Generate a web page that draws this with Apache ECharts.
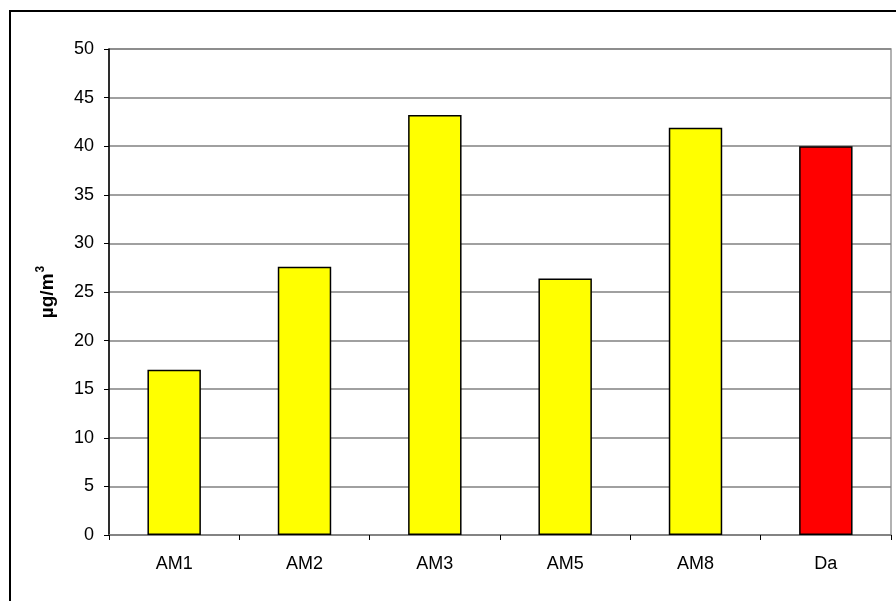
<!DOCTYPE html>
<html>
<head>
<meta charset="utf-8">
<script src="https://cdn.jsdelivr.net/npm/echarts@6/dist/echarts.min.js"></script>
<style>
  html, body { margin: 0; padding: 0; background: #fff; }
  #chart { width: 896px; height: 601px; }
  #frame { position: absolute; left: 9px; top: 10px; width: 900px; height: 600px; border: 2px solid #000; box-sizing: border-box; pointer-events: none; }
</style>
</head>
<body>
<div id="chart"></div>
<div id="frame"></div>
<script>
// Concentrations per station (µg/m³)
const categories = ['AM1', 'AM2', 'AM3', 'AM5', 'AM8', 'Da'];
const values = [17.0, 27.6, 43.2, 26.4, 41.9, 40.0];
const barColors = ['#FFFF00', '#FFFF00', '#FFFF00', '#FFFF00', '#FFFF00', '#FF0000'];
const yTicks = { min: 0, max: 50, interval: 5 };

const chart = echarts.init(document.getElementById('chart'), null, { renderer: 'canvas' });

chart.setOption({
  animation: false,
  backgroundColor: '#fff',
  textStyle: { fontFamily: 'Liberation Sans, Arial, sans-serif' },
  grid: { left: 109, right: 5, top: 49, bottom: 66, containLabel: false,
          show: true, borderColor: '#999', borderWidth: 1.5, backgroundColor: 'transparent' },
  xAxis: {
    type: 'category',
    data: categories,
    axisLine: { show: true, lineStyle: { color: '#808080', width: 1.5 } },
    axisTick: { show: true, alignWithLabel: false, length: 5, inside: false, lineStyle: { color: '#000', width: 1 } },
    axisLabel: { color: '#000', fontSize: 18, margin: 20 },
    splitLine: { show: false }
  },
  yAxis: {
    type: 'value',
    min: yTicks.min, max: yTicks.max, interval: yTicks.interval,
    name: '{u|µg/m}{s|3}',
    nameLocation: 'middle',
    nameGap: 52,
    nameRotate: 90,
    nameTextStyle: {
      color: '#000',
      rich: {
        u: { fontSize: 19, fontWeight: 'bold', color: '#000', verticalAlign: 'bottom' },
        s: { fontSize: 12, fontWeight: 'bold', color: '#000', verticalAlign: 'top', padding: [0, 0, 10, 1] }
      }
    },
    axisLine: { show: true, lineStyle: { color: '#000', width: 1.5 } },
    axisTick: { show: true, length: 5, lineStyle: { color: '#000' } },
    axisLabel: { color: '#000', fontSize: 18, margin: 15 },
    splitLine: { show: true, lineStyle: { color: '#808080', width: 1.5 } }
  },
  series: [{
    type: 'bar',
    data: values.map((v, i) => ({ value: v, itemStyle: { color: barColors[i] } })),
    barCategoryGap: '59%',
    itemStyle: { borderColor: '#000', borderWidth: 1.5 }
  }]
});
</script>
</body>
</html>
